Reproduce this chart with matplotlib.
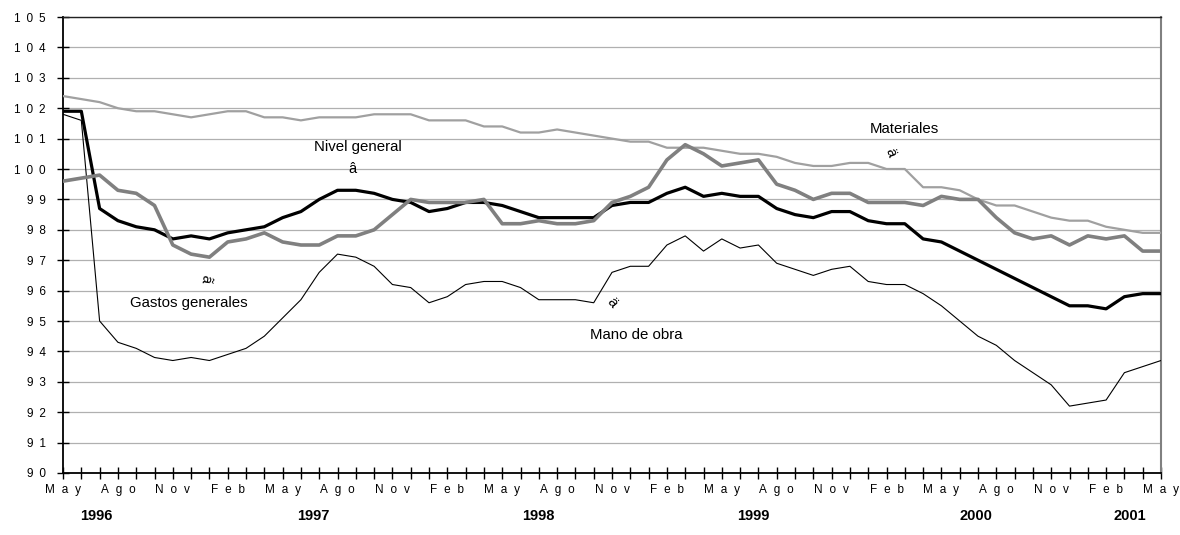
import numpy as np
import matplotlib
matplotlib.use('Agg')
import matplotlib.pyplot as plt
import matplotlib.transforms as mtransforms

plt.rcParams['font.family'] = ['Liberation Sans', 'DejaVu Sans']

# Meses desde May 1996 hasta May 2001 (61 observaciones)
meses = ['May', 'Jun', 'Jul', 'Ago', 'Sep', 'Oct', 'Nov', 'Dic', 'Ene', 'Feb', 'Mar', 'Abr']
n_obs = 61

nivel_general = [101.9, 101.9, 98.7, 98.3, 98.1, 98.0, 97.7, 97.8, 97.7, 97.9, 98.0, 98.1,
                 98.4, 98.6, 99.0, 99.3, 99.3, 99.2, 99.0, 98.9, 98.6, 98.7, 98.9, 98.9,
                 98.8, 98.6, 98.4, 98.4, 98.4, 98.4, 98.8, 98.9, 98.9, 99.2, 99.4, 99.1,
                 99.2, 99.1, 99.1, 98.7, 98.5, 98.4, 98.6, 98.6, 98.3, 98.2, 98.2, 97.7,
                 97.6, 97.3, 97.0, 96.7, 96.4, 96.1, 95.8, 95.5, 95.5, 95.4, 95.8, 95.9, 95.9]

materiales = [102.4, 102.3, 102.2, 102.0, 101.9, 101.9, 101.8, 101.7, 101.8, 101.9, 101.9, 101.7,
              101.7, 101.6, 101.7, 101.7, 101.7, 101.8, 101.8, 101.8, 101.6, 101.6, 101.6, 101.4,
              101.4, 101.2, 101.2, 101.3, 101.2, 101.1, 101.0, 100.9, 100.9, 100.7, 100.7, 100.7,
              100.6, 100.5, 100.5, 100.4, 100.2, 100.1, 100.1, 100.2, 100.2, 100.0, 100.0, 99.4,
              99.4, 99.3, 99.0, 98.8, 98.8, 98.6, 98.4, 98.3, 98.3, 98.1, 98.0, 97.9, 97.9]

gastos_generales = [99.6, 99.7, 99.8, 99.3, 99.2, 98.8, 97.5, 97.2, 97.1, 97.6, 97.7, 97.9,
                    97.6, 97.5, 97.5, 97.8, 97.8, 98.0, 98.5, 99.0, 98.9, 98.9, 98.9, 99.0,
                    98.2, 98.2, 98.3, 98.2, 98.2, 98.3, 98.9, 99.1, 99.4, 100.3, 100.8, 100.5,
                    100.1, 100.2, 100.3, 99.5, 99.3, 99.0, 99.2, 99.2, 98.9, 98.9, 98.9, 98.8,
                    99.1, 99.0, 99.0, 98.4, 97.9, 97.7, 97.8, 97.5, 97.8, 97.7, 97.8, 97.3, 97.3]

mano_de_obra = [101.8, 101.6, 95.0, 94.3, 94.1, 93.8, 93.7, 93.8, 93.7, 93.9, 94.1, 94.5,
                95.1, 95.7, 96.6, 97.2, 97.1, 96.8, 96.2, 96.1, 95.6, 95.8, 96.2, 96.3,
                96.3, 96.1, 95.7, 95.7, 95.7, 95.6, 96.6, 96.8, 96.8, 97.5, 97.8, 97.3,
                97.7, 97.4, 97.5, 96.9, 96.7, 96.5, 96.7, 96.8, 96.3, 96.2, 96.2, 95.9,
                95.5, 95.0, 94.5, 94.2, 93.7, 93.3, 92.9, 92.2, 92.3, 92.4, 93.3, 93.5, 93.7]

anios = ['1996', '1997', '1998', '1999', '2000', '2001']
anios_pos = [1.8, 13.7, 26.0, 37.7, 49.9, 58.3]

x = np.arange(n_obs)


def espaciado(s, sep='\u2002'):
    return sep.join(list(s))


fig = plt.figure(figsize=(11.8, 5.35), dpi=100)
ax = fig.add_axes([0.0534, 0.1159, 0.9305, 0.8523])

ax.plot(x, materiales, color='#a0a0a0', lw=1.6, zorder=3)
ax.plot(x, mano_de_obra, color='black', lw=0.8, zorder=4)
ax.plot(x, nivel_general, color='black', lw=2.3, zorder=5)
ax.plot(x, gastos_generales, color='#808080', lw=2.6, zorder=6)

ax.set_xlim(0, n_obs - 1)
ax.set_ylim(90, 105)

ax.set_yticks(np.arange(90, 106))
ax.set_yticklabels([espaciado(str(v)) for v in range(90, 106)], fontsize=8.5)
ax.yaxis.grid(True, color='#b0b0b0', lw=0.9)
ax.set_axisbelow(True)

ax.set_xticks(x)
ax.set_xticklabels([espaciado(meses[i % 12], '\u2002\u200a') if i % 3 == 0 else '' for i in x],
                   fontsize=8.5)

ax.tick_params(axis='y', direction='inout', length=9, width=1, pad=8)
ax.tick_params(axis='x', direction='inout', length=8, width=1, pad=4)

for s in ['left', 'bottom']:
    ax.spines[s].set_linewidth(1.3)
ax.spines['top'].set_color('#222222')
ax.spines['top'].set_linewidth(1)
ax.spines['right'].set_color('#808080')
ax.spines['right'].set_linewidth(1.5)

trans = mtransforms.blended_transform_factory(ax.transData, ax.transAxes)
for a, p in zip(anios, anios_pos):
    ax.text(p, -0.094, a, transform=trans, ha='center', va='center',
            fontsize=10.5, fontweight='bold')

ax.text(16.1, 100.73, 'Nivel general', ha='center', va='center', fontsize=10.8)
ax.text(15.8, 100.0, 'â', ha='center', va='center', fontsize=10.5)
ax.text(46.0, 101.3, 'Materiales', ha='center', va='center', fontsize=10.8)
ax.text(45.2, 100.55, 'ä', ha='center', va='center', fontsize=10.5, rotation=-70)
ax.text(6.9, 95.6, 'Gastos generales', ha='center', va='center', fontsize=10.8)
ax.text(7.8, 96.4, 'ã', ha='center', va='center', fontsize=10.5, rotation=-100)
ax.text(31.3, 94.55, 'Mano de obra', ha='center', va='center', fontsize=10.8)
ax.text(30.0, 95.6, 'ä', ha='center', va='center', fontsize=10.5, rotation=-50)

fig.savefig('out.png', dpi=100)
